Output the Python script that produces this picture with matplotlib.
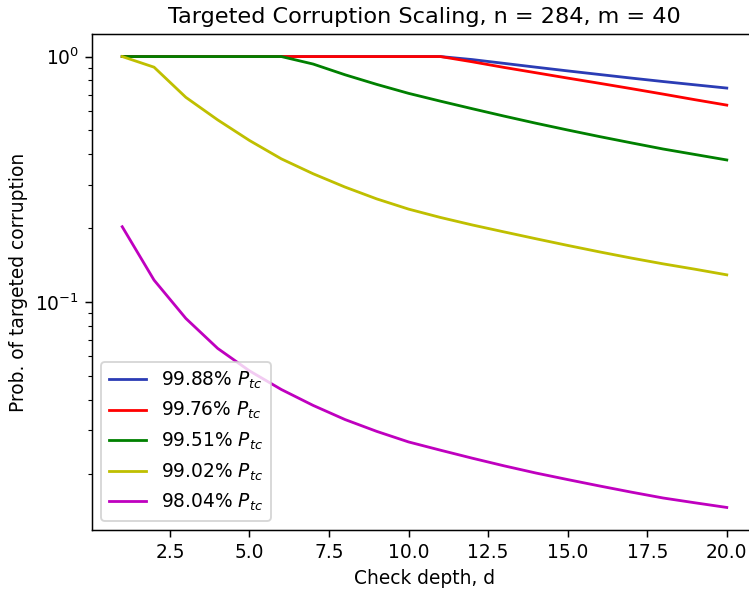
import matplotlib
matplotlib.use("Agg")
import matplotlib.pyplot as plt

# Check depth values
depth = list(range(1, 21))

# Probability of targeted corruption for each P_tc level
p_9988 = [1.0, 1.0, 1.0, 1.0, 1.0, 1.0, 1.0, 1.0, 1.0, 1.0, 1.0,
          0.972, 0.938, 0.905, 0.874, 0.845, 0.817, 0.791, 0.767, 0.744]
p_9976 = [1.0, 1.0, 1.0, 1.0, 1.0, 1.0, 1.0, 1.0, 1.0, 1.0, 1.0,
          0.952, 0.903, 0.859, 0.817, 0.778, 0.740, 0.703, 0.667, 0.634]
p_9951 = [1.0, 1.0, 1.0, 1.0, 1.0, 1.0, 0.932, 0.843, 0.770, 0.708,
          0.658, 0.613, 0.572, 0.535, 0.502, 0.472, 0.445, 0.420, 0.399, 0.379]
p_9902 = [1.0, 0.905, 0.682, 0.552, 0.455, 0.383, 0.333, 0.294, 0.263, 0.239,
          0.221, 0.206, 0.193, 0.181, 0.170, 0.160, 0.151, 0.143, 0.136, 0.129]
p_9804 = [0.2026, 0.1228, 0.0857, 0.0647, 0.0524, 0.0440, 0.0379, 0.0332,
          0.0297, 0.0269, 0.0249, 0.0231, 0.0215, 0.0201, 0.0189, 0.0178,
          0.0168, 0.0159, 0.0152, 0.01455]

series = [p_9988, p_9976, p_9951, p_9902, p_9804]
labels = ["99.88%", "99.76%", "99.51%", "99.02%", "98.04%"]
colors = ["#2b3cb5", "r", "g", "y", "m"]

dpi = 134
fig = plt.figure(figsize=(749 / dpi, 590 / dpi), dpi=dpi)
ax = fig.add_axes([92 / 749, 60 / 590, 665 / 749, 496 / 590])

for vals, lab, col in zip(series, labels, colors):
    ax.plot(depth, vals, color=col, linewidth=1.5, label=lab + r" $P_{tc}$")

ax.set_yscale("log")
ax.set_title("Targeted Corruption Scaling, n = 284, m = 40")
ax.set_xlabel("Check depth, d")
ax.set_ylabel("Prob. of targeted corruption")
ax.legend(loc="lower left")

fig.savefig("out.png", dpi=dpi)
